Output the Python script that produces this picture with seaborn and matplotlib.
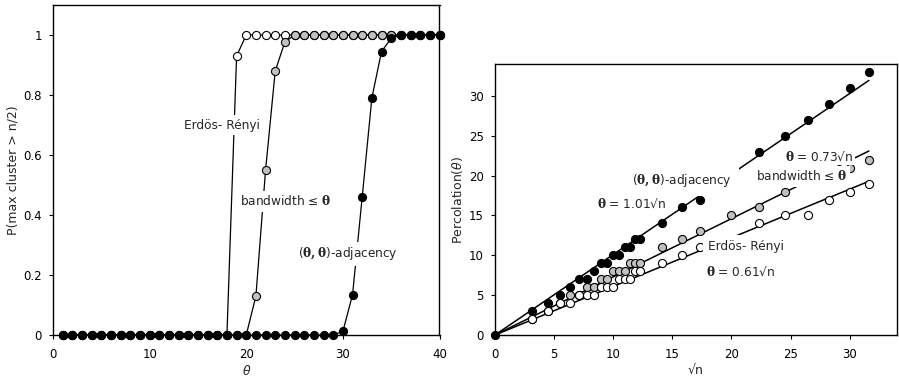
import numpy as np
import matplotlib
matplotlib.use("Agg")
import matplotlib.pyplot as plt
import seaborn as sns

# ---------------- data: left panel ----------------
theta = [1, 2, 3, 4, 5, 6, 7, 8, 9, 10, 11, 12, 13, 14, 15, 16, 17, 18, 19, 20,
         21, 22, 23, 24, 25, 26, 27, 28, 29, 30, 31, 32, 33, 34, 35, 36, 37, 38, 39, 40]
p_er = [0, 0, 0, 0, 0, 0, 0, 0, 0, 0, 0, 0, 0, 0, 0, 0, 0, 0, 0.93, 1,
        1, 1, 1, 1, 1, 1, 1, 1, 1, 1, 1, 1, 1, 1, 1, 1, 1, 1, 1, 1]
p_bw = [0, 0, 0, 0, 0, 0, 0, 0, 0, 0, 0, 0, 0, 0, 0, 0, 0, 0, 0, 0,
        0.13, 0.55, 0.88, 0.977, 1, 1, 1, 1, 1, 1, 1, 1, 1, 1, 1, 1, 1, 1, 1, 1]
p_adj = [0, 0, 0, 0, 0, 0, 0, 0, 0, 0, 0, 0, 0, 0, 0, 0, 0, 0, 0, 0,
         0, 0, 0, 0, 0, 0, 0, 0, 0, 0.012, 0.134, 0.46, 0.79, 0.945, 0.989, 1, 1, 1, 1, 1]

# ---------------- data: right panel ----------------
n_adj = [0, 10, 20, 30, 40, 50, 60, 70, 80, 90, 100, 110, 120, 130, 140, 150,
         200, 250, 300, 500, 600, 700, 800, 900, 1000]
perc_adj = [0, 3, 4, 5, 6, 7, 7, 8, 9, 9, 10, 10, 11, 11, 12, 12,
            14, 16, 17, 23, 25, 27, 29, 31, 33]
n_bw = [10, 20, 30, 40, 50, 60, 70, 80, 90, 100, 110, 120, 130, 140, 150,
        200, 250, 300, 400, 500, 600, 700, 800, 900, 1000]
perc_bw = [2, 3, 4, 5, 5, 6, 6, 7, 7, 8, 8, 8, 9, 9, 9,
           11, 12, 13, 15, 16, 18, 20, 20, 21, 22]
n_er = [10, 20, 30, 40, 50, 60, 70, 80, 90, 100, 110, 120, 130, 140, 150,
        200, 250, 300, 500, 600, 700, 800, 900, 1000]
perc_er = [2, 3, 4, 4, 5, 5, 5, 6, 6, 6, 7, 7, 7, 8, 8,
           9, 10, 11, 14, 15, 15, 17, 18, 19]
fit_sqrt_n_range = [0, 31.62]
slope_adj, slope_bw, slope_er = 1.01, 0.73, 0.61

GRAY = "#c0c0c0"

sns.set_theme(style="white")
plt.rcParams["font.family"] = ["DejaVu Sans"]
plt.rcParams["mathtext.fontset"] = "custom"
plt.rcParams["mathtext.rm"] = "DejaVu Sans"
plt.rcParams["mathtext.it"] = "DejaVu Sans:italic"
plt.rcParams["mathtext.bf"] = "DejaVu Serif:bold"

fig = plt.figure(figsize=(8.99, 3.79), dpi=100)
axL = fig.add_axes([53 / 899, 1 - 335 / 379, (439.5 - 53) / 899, (335 - 5) / 379])
axR = fig.add_axes([495 / 899, 1 - 335 / 379, (897 - 495) / 899, (335 - 64) / 379])

FS = 8
AFS = 8.7
LFS = 9
ms = 34

# ---------- left panel ----------
for y, fc in [(p_er, "white"), (p_bw, GRAY), (p_adj, "black")]:
    sns.lineplot(x=theta, y=y, ax=axL, color="black", lw=0.9, zorder=2, clip_on=False)
    sns.scatterplot(x=theta, y=y, ax=axL, s=ms, color=fc, edgecolor="black",
                    linewidth=0.8, zorder=3, clip_on=False)

axL.set_xlim(0, 40)
axL.set_ylim(0, 1.1)
axL.set_xticks([0, 10, 20, 30, 40])
axL.set_yticks([0, 0.2, 0.4, 0.6, 0.8, 1.0])
axL.set_yticklabels(["0", "0.2", "0.4", "0.6", "0.8", "1"])
axL.set_xlabel(r"$\theta$", fontsize=LFS, labelpad=2)
axL.set_ylabel("P(max cluster > n/2)", fontsize=LFS, labelpad=3)

box = dict(facecolor="white", edgecolor="none", pad=2.5)
axL.text(17.5, 0.70, "Erdös- Rényi", fontsize=AFS, ha="center", va="center",
         bbox=box, zorder=6)
axL.text(24.1, 0.446, r"bandwidth ≤ $\mathbf{\theta}$", fontsize=AFS, ha="center",
         va="center", bbox=box, zorder=6)
axL.text(30.5, 0.27, r"($\mathbf{\theta,\theta}$)-adjacency", fontsize=AFS, ha="center",
         va="center", bbox=box, zorder=6)

# ---------- right panel ----------
x_adj = np.sqrt(n_adj)
x_bw = np.sqrt(n_bw)
x_er = np.sqrt(n_er)
fit_x = np.array(fit_sqrt_n_range)
for k in [slope_adj, slope_bw, slope_er]:
    sns.lineplot(x=fit_x, y=k * fit_x, ax=axR, color="black", lw=1.1, zorder=2)

sns.scatterplot(x=x_bw, y=perc_bw, ax=axR, s=ms, color=GRAY, edgecolor="black",
                linewidth=0.8, zorder=3, clip_on=False)
sns.scatterplot(x=x_er, y=perc_er, ax=axR, s=ms, color="white", edgecolor="black",
                linewidth=0.8, zorder=4, clip_on=False)
sns.scatterplot(x=x_adj, y=perc_adj, ax=axR, s=ms, color="black", edgecolor="black",
                linewidth=0.8, zorder=3.5, clip_on=False)

axR.set_xlim(0, 34)
axR.set_ylim(0, 34)
axR.set_xticks([0, 5, 10, 15, 20, 25, 30])
axR.set_yticks([0, 5, 10, 15, 20, 25, 30])
axR.set_xlabel("√n", fontsize=LFS, labelpad=2)
axR.set_ylabel(r"Percolation($\theta$)", fontsize=LFS, labelpad=3)

axR.text(15.8, 19.4, r"($\mathbf{\theta,\theta}$)-adjacency", fontsize=AFS, ha="center",
         va="center", bbox=dict(facecolor="white", edgecolor="none", pad=5), zorder=6)
axR.text(11.6, 16.5, r"$\mathbf{\theta}$ = 1.01√n", fontsize=AFS, ha="center",
         va="center", bbox=box, zorder=6)
axR.text(27.4, 22.4, r"$\mathbf{\theta}$ = 0.73√n", fontsize=AFS, ha="center",
         va="center", bbox=dict(facecolor="white", edgecolor="none", pad=1.5), zorder=6)
axR.text(25.9, 19.9, r"bandwidth ≤ $\mathbf{\theta}$", fontsize=AFS, ha="center",
         va="center", bbox=box, zorder=6)
axR.text(21.2, 11.1, "Erdös- Rényi", fontsize=AFS, ha="center",
         va="center", bbox=dict(facecolor="white", edgecolor="none", pad=3.5), zorder=6)
axR.text(20.8, 7.9, r"$\mathbf{\theta}$ = 0.61√n", fontsize=AFS, ha="center",
         va="center", bbox=box, zorder=6)

for ax in (axL, axR):
    for sp in ax.spines.values():
        sp.set_visible(True)
        sp.set_color("black")
        sp.set_linewidth(1.0)
    ax.tick_params(axis="both", which="major", direction="out", length=3, width=0.8,
                   labelsize=FS + 0.5, colors="black", bottom=True, left=True)
    ax.tick_params(axis="x", pad=6.5)
    ax.tick_params(axis="y", pad=5)
    ax.grid(False)
    if ax.get_legend() is not None:
        ax.get_legend().remove()

fig.savefig("out.png", dpi=100, facecolor="white")
